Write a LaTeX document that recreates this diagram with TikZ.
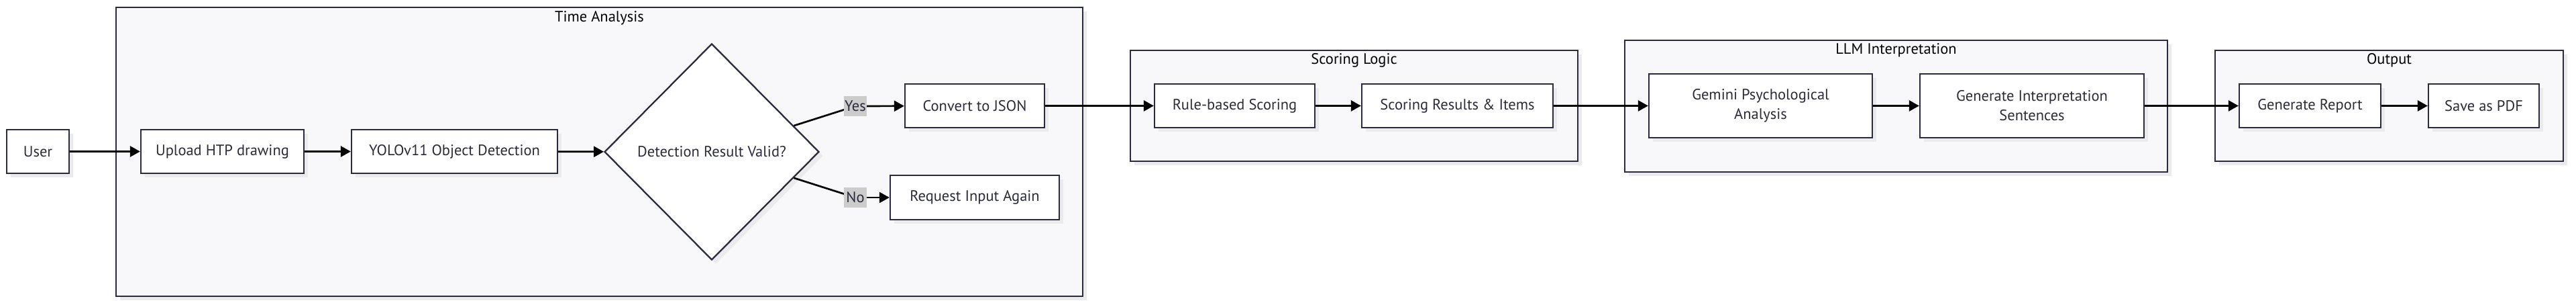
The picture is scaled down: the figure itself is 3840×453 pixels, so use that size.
\documentclass[tikz,border=0pt]{standalone}
\usepackage{fontspec}
\setmainfont{PT Sans}
\usetikzlibrary{shapes.geometric,arrows.meta,shadows}
\definecolor{strokec}{HTML}{2B2B40}
\definecolor{clfill}{HTML}{F8F8FA}
\definecolor{txtc}{HTML}{2B2B3B}
\definecolor{shad}{HTML}{EBEBEB}
\definecolor{lblfill}{HTML}{CCCCCC}
\tikzset{
  shd/.style={drop shadow={shadow xshift=6pt,shadow yshift=-6pt,fill=shad,opacity=1}},
  box/.style={draw=strokec, line width=2.3pt, fill=white, inner sep=0pt, text=txtc,
    font=\fontsize{22.5}{29}\selectfont, align=center, shd},
  cluster/.style={draw=strokec, line width=2.3pt, fill=clfill, shd},
  ttl/.style={text=black, font=\fontsize{22.5}{24}\selectfont, inner sep=0pt},
  arr/.style={line width=2.7pt, draw=black, -{Triangle[length=15pt,width=16pt]}},
  ln/.style={line width=2.7pt, draw=black},
  lbl/.style={fill=lblfill, inner sep=0pt, minimum width=34pt, minimum height=30pt,
    font=\fontsize{22.5}{24}\selectfont, text=txtc},
}
\begin{document}
\begin{tikzpicture}[x=1pt,y=-1pt]
\useasboundingbox[fill=white] (0,0) rectangle (3840,453);
% clusters
\draw[cluster] (173,11) rectangle (1614,441);
\draw[cluster] (1685,75) rectangle (2352,240);
\draw[cluster] (2422,60) rectangle (3231,256);
\draw[cluster] (3302,75) rectangle (3821,240);
\node[ttl] (ttime) at (893.5,27) {Time Analysis};
\node[ttl] (tscore) at (2018.5,90) {Scoring Logic};
\node[ttl] (tllm) at (2826.5,75) {LLM Interpretation};
\node[ttl] (tout) at (3561.5,90) {Output};
% nodes
\node[box, minimum width=93pt, minimum height=65pt] (user) at (56.5,225.5) {User};
\node[box, minimum width=243pt, minimum height=65pt] (upload) at (331.5,225.5) {Upload HTP drawing};
\node[box, minimum width=307pt, minimum height=65pt] (yolo) at (677.5,225.5) {YOLOv11 Object Detection};
\node[box, diamond, aspect=1, minimum width=320pt, minimum height=322pt] (dec) at (1061,226) {Detection Result Valid?};
\node[box, minimum width=208pt, minimum height=65pt] (json) at (1453,157.5) {Convert to JSON};
\node[box, minimum width=252pt, minimum height=66pt] (req) at (1453,294) {Request Input Again};
\node[box, minimum width=239pt, minimum height=65pt] (rule) at (1840.5,157.5) {Rule-based Scoring};
\node[box, minimum width=285pt, minimum height=65pt] (res) at (2172.5,157.5) {Scoring Results \& Items};
\node[box, minimum width=333pt, minimum height=95pt] (gem) at (2624.5,157.5) {Gemini Psychological\\Analysis};
\node[box, minimum width=334pt, minimum height=95pt] (gen) at (3029,157.5) {Generate Interpretation\\Sentences};
\node[box, minimum width=211pt, minimum height=65pt] (rep) at (3443.5,157.5) {Generate Report};
\node[box, minimum width=165pt, minimum height=65pt] (pdf) at (3702.5,157.5) {Save as PDF};
% edges
\draw[arr] (user) -- (upload);
\draw[arr] (upload) -- (yolo);
\draw[arr] (yolo) -- (dec);
\coordinate (yes) at (1275,158);
\coordinate (no) at (1275,294);
\draw[ln] (dec) -- (yes);
\draw[ln] (dec) -- (no);
\node[lbl] (yesl) at (yes) {Yes};
\node[lbl] (nol) at (no) {No};
\draw[arr] (yesl) -- (json);
\draw[arr] (nol) -- (req);
\draw[arr] (json) -- (rule);
\draw[arr] (rule) -- (res);
\draw[arr] (res) -- (gem);
\draw[arr] (gem) -- (gen);
\draw[arr] (gen) -- (rep);
\draw[arr] (rep) -- (pdf);
\end{tikzpicture}
\end{document}
